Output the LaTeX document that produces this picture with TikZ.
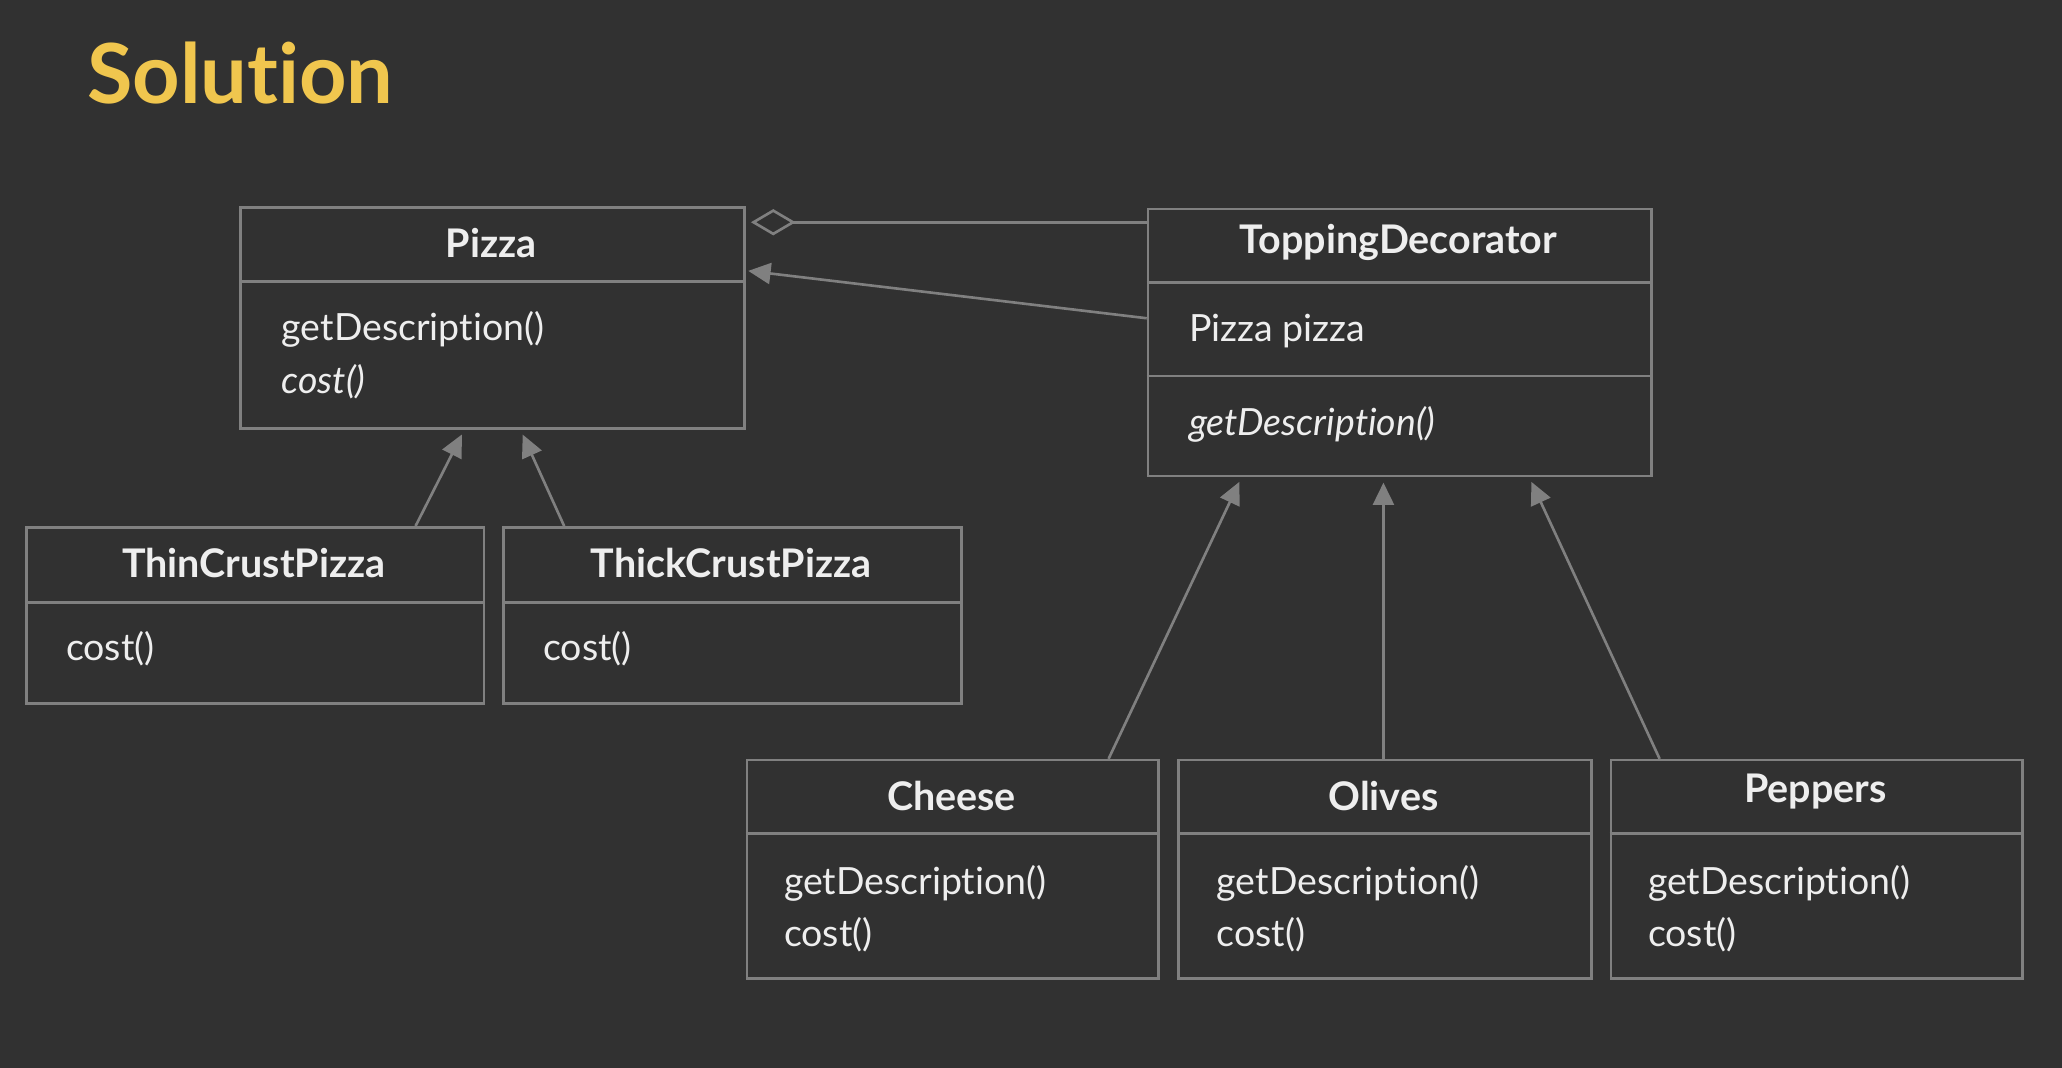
\documentclass[tikz,border=0pt]{standalone}
\usepackage{fontspec}
\setmainfont{Lato}[Ligatures=NoCommon]
\usetikzlibrary{arrows.meta,shapes.geometric}
\definecolor{bg}{RGB}{49,49,49}
\definecolor{ln}{RGB}{128,128,128}
\definecolor{tx}{RGB}{238,238,238}
\definecolor{ttl}{RGB}{240,198,78}
\tikzset{
  box/.style={draw=ln,line width=2pt,rectangle,inner sep=0pt,anchor=north west},
  sep/.style={draw=ln,line width=2pt},
  cname/.style={text=tx,font=\fontsize{30}{34}\selectfont\bfseries},
  meth/.style={text=tx,font=\fontsize{28.5}{32}\selectfont,anchor=base west,inner sep=0pt},
  imeth/.style={meth,font=\fontsize{28.5}{32}\selectfont\itshape},
  inh/.style={draw=ln,line width=2pt,-{Triangle[length=17pt,width=16pt]},shorten >=6pt},
}
\begin{document}
\begin{tikzpicture}[x=1pt,y=-1pt]
\fill[bg] (0,0) rectangle (1568,812);
\useasboundingbox (0,0) rectangle (1568,812);
\node[text=ttl,font=\fontsize{63}{70}\selectfont\bfseries,anchor=base west,inner sep=0pt] (title) at (66,79) {Solution};

% Pizza
\node[box,minimum width=383pt,minimum height=168pt] (pizza) at (182,157) {};
\draw[sep] (182,214) -- (565,214);
\node[cname] (pizzaN) at (373.5,185) {Pizza};
\node[meth] (pizzaM1) at (214,259) {getDescription()};
\node[imeth] (pizzaM2) at (214,299) {cost()};

% ToppingDecorator
\node[box,minimum width=383pt,minimum height=203pt] (td) at (872,158) {};
\draw[sep] (872,215) -- (1255,215);
\draw[sep] (872,286) -- (1255,286);
\node[cname] (tdN) at (1063.5,184) {ToppingDecorator};
\node[meth] (tdA) at (904,260) {Pizza pizza};
\node[imeth] (tdM) at (904,331) {getDescription()};

% ThinCrust
\node[box,minimum width=348pt,minimum height=134pt] (thin) at (19,400) {};
\draw[sep] (19,458) -- (367,458);
\node[cname] (thinN) at (193,428) {ThinCrustPizza};
\node[meth] (thinM) at (50,502) {cost()};

% ThickCrust
\node[box,minimum width=348pt,minimum height=134pt] (thick) at (382,400) {};
\draw[sep] (382,458) -- (730,458);
\node[cname] (thickN) at (556,428) {ThickCrustPizza};
\node[meth] (thickM) at (413,502) {cost()};

% Cheese
\node[box,minimum width=313pt,minimum height=166pt] (cheese) at (567,577) {};
\draw[sep] (567,634) -- (880,634);
\node[cname] (cheeseN) at (723.5,605) {Cheese};
\node[meth] (cheeseM1) at (596,680) {getDescription()};
\node[meth] (cheeseM2) at (596,720) {cost()};

% Olives
\node[box,minimum width=314pt,minimum height=166pt] (olives) at (895,577) {};
\draw[sep] (895,634) -- (1209,634);
\node[cname] (olivesN) at (1052,605) {Olives};
\node[meth] (olivesM1) at (925,680) {getDescription()};
\node[meth] (olivesM2) at (925,720) {cost()};

% Peppers
\node[box,minimum width=313pt,minimum height=166pt] (peppers) at (1224,577) {};
\draw[sep] (1224,634) -- (1537,634);
\node[cname] (peppersN) at (1380.5,602) {Peppers};
\node[meth] (peppersM1) at (1253,680) {getDescription()};
\node[meth] (peppersM2) at (1253,720) {cost()};

% connectors
\coordinate (thinT) at (316,400);
\coordinate (thickT) at (429,400);
\coordinate (pizzaB1) at (354,325);
\coordinate (pizzaB2) at (395,325);
\draw[inh] (thinT) -- (pizzaB1);
\draw[inh] (thickT) -- (pizzaB2);

\coordinate (cheeseT) at (843,577);
\coordinate (olivesT) at (1052,577);
\coordinate (peppersT) at (1262,577);
\coordinate (tdB1) at (945,361);
\coordinate (tdB2) at (1052,361);
\coordinate (tdB3) at (1162,361);
\draw[inh] (cheeseT) -- (tdB1);
\draw[inh] (olivesT) -- (tdB2);
\draw[inh] (peppersT) -- (tdB3);

\coordinate (tdL1) at (872,169);
\coordinate (pizzaR1) at (565,169);
\draw[draw=ln,line width=2pt,-{Diamond[open,length=34pt,width=20pt,line width=2pt]},shorten >=6pt] (tdL1) -- (pizzaR1);
\coordinate (tdL2) at (872,242);
\coordinate (pizzaR2) at (565,205.5);
\draw[inh,shorten >=4pt] (tdL2) -- (pizzaR2);
\end{tikzpicture}
\end{document}
